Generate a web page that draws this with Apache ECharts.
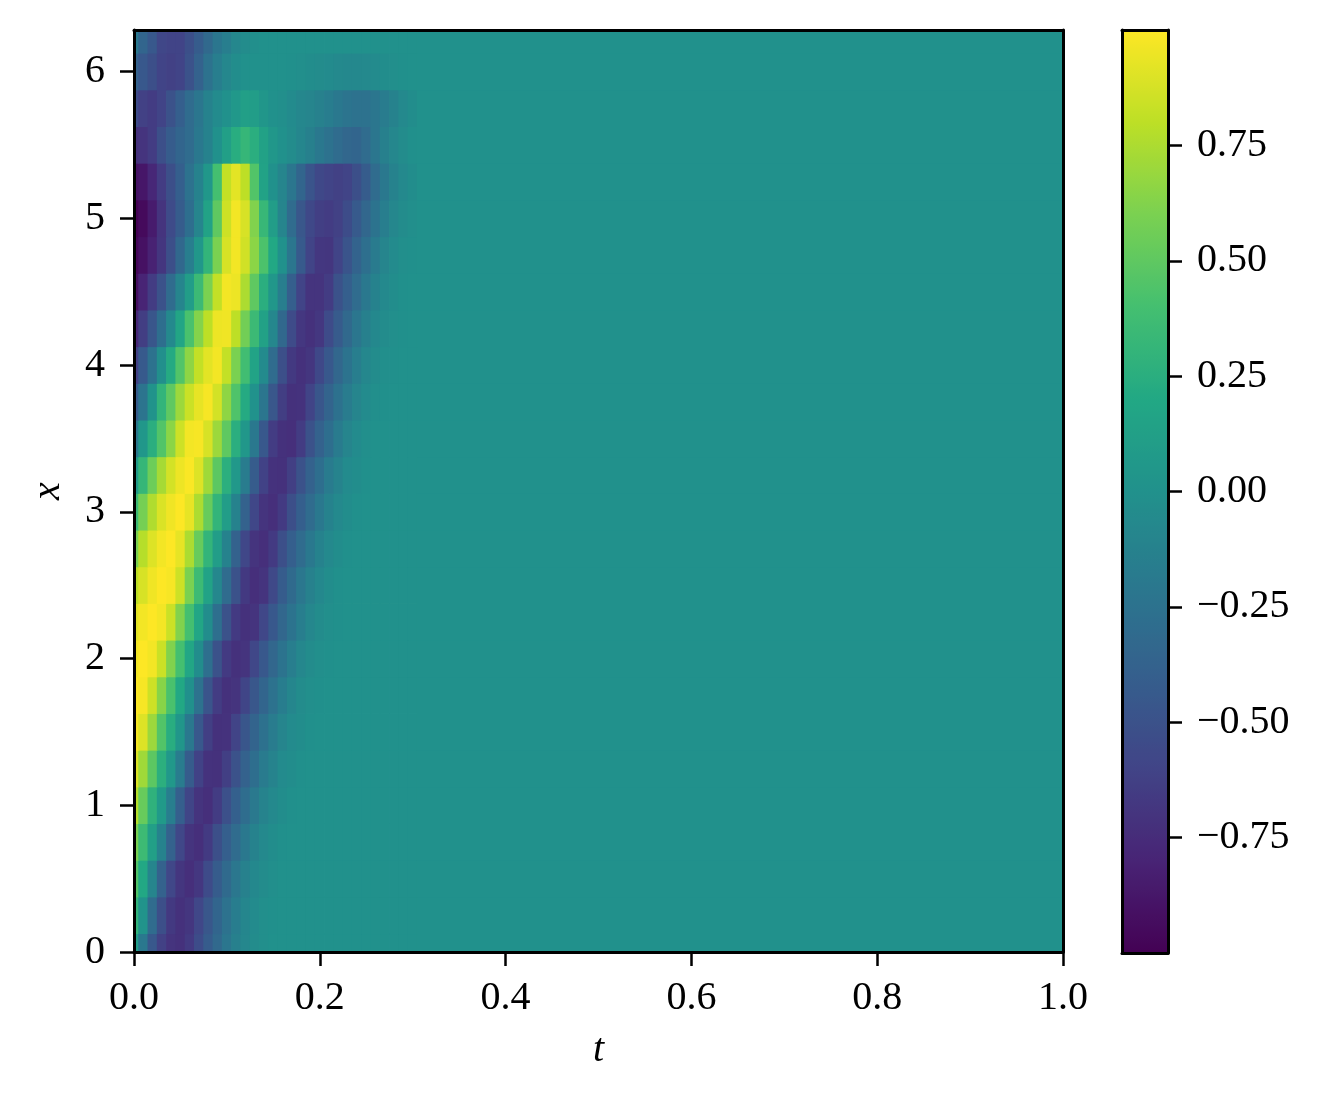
<!DOCTYPE html>
<html>
<head>
<meta charset="utf-8">
<script src="https://cdn.jsdelivr.net/npm/echarts@6/dist/echarts.min.js"></script>
<style>
  html, body { margin: 0; background: #fff; }
  #main { width: 1333px; height: 1103px; }
</style>
</head>
<body>
<div id="main"></div>
<script>
// sample times (columns) and positions (rows)
var tGrid = [0, 0.01, 0.02, 0.03, 0.04, 0.05, 0.06, 0.07, 0.08, 0.09,
             0.10, 0.11, 0.12, 0.13, 0.14, 0.15, 0.16, 0.17, 0.18, 0.19,
             0.20, 0.21, 0.22, 0.23, 0.24, 0.25, 0.26, 0.27, 0.28, 0.29,
             0.30, 0.31];
var xGrid = [0, 0.25, 0.5, 0.75, 1, 1.25, 1.5, 1.75, 2, 2.25, 2.5, 2.75, 3,
             3.25, 3.5, 3.75, 4, 4.25, 4.5, 4.75, 5, 5.25, 5.5, 5.75, 6, 6.25];

// u(x, t): one row per x, one value per t (last column stands for everything after t=0.3)
var u000 = [.10,-.20,-.45,-.62,-.70, -.72,-.66,-.54,-.42,-.32, -.22,-.14,-.08,-.04,-.02, 0,0,0,0,0, 0,0,0,0,0, 0,0,0,0,0, 0,0];
var u025 = [.30,.02,-.30,-.52,-.67, -.72,-.69,-.58,-.46,-.35, -.25,-.16,-.09,-.05,-.02, -.01,0,0,0,0, 0,0,0,0,0, 0,0,0,0,0, 0,0];
var u050 = [.45,.20,-.10,-.38,-.58, -.69,-.73,-.68,-.55,-.42, -.31,-.21,-.13,-.07,-.04, -.02,0,0,0,0, 0,0,0,0,0, 0,0,0,0,0, 0,0];
var u075 = [.60,.36,.12,-.12,-.38, -.58,-.70,-.73,-.66,-.52, -.40,-.30,-.20,-.12,-.06, -.03,-.01,0,0,0, 0,0,0,0,0, 0,0,0,0,0, 0,0];
var u100 = [.78,.53,.28,.08,-.15, -.40,-.59,-.70,-.73,-.65, -.51,-.39,-.29,-.19,-.11, -.06,-.03,-.01,0,0, 0,0,0,0,0, 0,0,0,0,0, 0,0];
var u125 = [.90,.71,.49,.26,.06, -.17,-.42,-.61,-.71,-.72, -.63,-.50,-.38,-.28,-.18, -.11,-.05,-.03,-.01,0, 0,0,0,0,0, 0,0,0,0,0, 0,0];
var u150 = [.98,.90,.70,.45,.24, .04,-.20,-.45,-.63,-.72, -.71,-.60,-.47,-.36,-.26, -.17,-.10,-.05,-.03,-.01, 0,0,0,0,0, 0,0,0,0,0, 0,0];
var u175 = [1.0,.98,.85,.64,.42, .20,-.01,-.25,-.48,-.65, -.72,-.70,-.59,-.46,-.35, -.25,-.16,-.09,-.04,-.02, -.01,0,0,0,0, 0,0,0,0,0, 0,0];
var u200 = [.97,1.0,.97,.84,.62, .40,.18,-.03,-.27,-.50, -.66,-.72,-.70,-.58,-.45, -.34,-.24,-.15,-.08,-.04, -.02,-.01,0,0,0, 0,0,0,0,0, 0,0];
var u225 = [.92,.97,1.0,.97,.84, .62,.40,.18,-.03,-.27, -.50,-.66,-.72,-.70,-.58, -.45,-.34,-.24,-.15,-.08, -.04,-.02,-.01,0,0, 0,0,0,0,0, 0,0];
var u250 = [.80,.88,.96,1.0,.98, .85,.60,.36,.15,-.08, -.30,-.50,-.67,-.73,-.70, -.56,-.42,-.31,-.21,-.13, -.07,-.03,-.01,0,0, 0,0,0,0,0, 0,0];
var u275 = [.60,.78,.90,.97,1.0, .93,.75,.53,.30,.10, -.12,-.38,-.58,-.70,-.73, -.66,-.52,-.40,-.30,-.20, -.12,-.06,-.03,-.01,0, 0,0,0,0,0, 0,0];
var u300 = [.35,.58,.76,.89,.96, 1.0,.93,.75,.53,.30, .10,-.12,-.38,-.58,-.70, -.73,-.66,-.52,-.40,-.30, -.20,-.12,-.06,-.03,-.01, 0,0,0,0,0, 0,0];
var u325 = [.08,.32,.55,.73,.87, .95,.99,.90,.71,.49, .26,.06,-.17,-.42,-.61, -.71,-.72,-.63,-.50,-.38, -.28,-.18,-.11,-.05,-.03, -.01,0,0,0,0, 0,0];
var u350 = [-.20,.05,.25,.45,.65, .85,.97,.98,.88,.70, .50,.25,.05,-.20,-.45, -.65,-.72,-.73,-.65,-.50, -.38,-.28,-.18,-.10,-.05, -.02,0,0,0,0, 0,0];
var u375 = [-.42,-.23,.02,.30,.50, .70,.84,.93,.98,.87, .66,.44,.22,.01,-.22, -.46,-.64,-.72,-.71,-.60, -.47,-.36,-.26,-.17,-.10, -.05,-.02,-.01,0,0, 0,0];
var u400 = [-.62,-.44,-.25,-.02,.22, .45,.66,.82,.92,.97, .82,.60,.38,.16,-.05, -.30,-.52,-.67,-.72,-.69, -.57,-.45,-.34,-.24,-.15, -.08,-.04,-.02,-.01,0, 0,0];
var u425 = [-.78,-.64,-.47,-.28,-.06, .17,.42,.63,.80,.95, .96,.80,.57,.35,.14, -.08,-.33,-.55,-.68,-.72, -.68,-.55,-.43,-.32,-.22, -.14,-.07,-.04,-.02,-.01, 0,0];
var u450 = [-.92,-.80,-.65,-.50,-.30, -.10,.10,.35,.60,.82, .97,.95,.75,.50,.25, .05,-.15,-.40,-.60,-.70, -.70,-.65,-.50,-.40,-.30, -.20,-.12,-.06,-.03,-.01, 0,0];
var u475 = [-.97,-.91,-.81,-.69,-.52, -.33,-.15,.05,.30,.60, .88,.97,.86,.65,.43, .20,.00,-.22,-.44,-.60, -.68,-.69,-.60,-.48,-.37, -.27,-.18,-.10,-.05,-.02, -.01,0];
var u500 = [-1.0,-.95,-.85,-.70,-.55, -.42,-.28,-.10,.15,.50, .85,.97,.88,.62,.33, .10,-.10,-.30,-.46,-.57, -.63,-.65,-.62,-.54,-.44, -.34,-.24,-.15,-.08,-.04, -.02,0];
var u525 = [-.90,-.88,-.78,-.65,-.52, -.40,-.25,-.12,.05,.40, .82,.92,.80,.45,.15, .00,-.10,-.22,-.35,-.48, -.57,-.60,-.62,-.60,-.52, -.42,-.30,-.20,-.12,-.06, -.03,0];
var u550 = [-.72,-.70,-.65,-.52,-.42, -.35,-.30,-.20,-.12,.00, .12,.24,.32,.25,.14, .05,.00,-.04,-.09,-.14, -.20,-.25,-.30,-.34,-.35, -.30,-.22,-.14,-.08,-.04, -.01,0];
var u575 = [-.55,-.62,-.65,-.60,-.50, -.40,-.30,-.22,-.12,-.05, .00,.06,.12,.10,.04, .00,-.02,-.05,-.08,-.10, -.13,-.16,-.20,-.23,-.25, -.25,-.22,-.17,-.12,-.06, -.03,0];
var u600 = [-.38,-.45,-.52,-.60,-.62, -.60,-.50,-.38,-.25,-.15, -.08,-.03,.00,.00,.00, .00,.00,-.01,-.02,-.03, -.04,-.05,-.06,-.07,-.07, -.06,-.05,-.03,-.02,-.01, 0,0];
var u625 = [-.20,-.35,-.45,-.58,-.60, -.60,-.52,-.42,-.32,-.22, -.15,-.08,-.04,-.02,0, 0,0,0,0,0, 0,0,0,0,0, 0,0,0,0,0, 0,0];
var uRows = [u000, u025, u050, u075, u100, u125, u150, u175, u200, u225, u250, u275, u300,
             u325, u350, u375, u400, u425, u450, u475, u500, u525, u550, u575, u600, u625];

var tTicks = [0, 0.2, 0.4, 0.6, 0.8, 1.0];
var xTicks = [0, 1, 2, 3, 4, 5, 6];
var cbTicks = [-0.75, -0.5, -0.25, 0, 0.25, 0.5, 0.75];

var T_MIN = 0, T_MAX = 1, X_MIN = 0, X_MAX = 2 * Math.PI;
var U_MIN = -1, U_MAX = 1;

var viridis = ['#440154', '#482475', '#414487', '#355f8d', '#2a788e', '#21918c',
               '#22a884', '#44bf70', '#7ad151', '#bddf26', '#fde725'];

// cell edges halfway between samples
function edges(c, lo, hi) {
  var e = [lo];
  for (var i = 1; i < c.length; i++) e.push((c[i - 1] + c[i]) / 2);
  e.push(hi);
  return e;
}
var tEdge = edges(tGrid, T_MIN, T_MAX);
var xEdge = edges(xGrid, X_MIN, X_MAX);

var cells = [];
for (var j = 0; j < xGrid.length; j++) {
  for (var i = 0; i < tGrid.length; i++) {
    cells.push([tEdge[i], tEdge[i + 1], xEdge[j], xEdge[j + 1], uRows[j][i]]);
  }
}

function renderCell(params, api) {
  var a = api.coord([api.value(0), api.value(2)]);
  var b = api.coord([api.value(1), api.value(3)]);
  return {
    type: 'rect',
    shape: { x: a[0] - 0.4, y: b[1] - 0.4, width: b[0] - a[0] + 0.8, height: a[1] - b[1] + 0.8 },
    style: { fill: api.visual('color') }
  };
}

var FONT = 'Liberation Serif';
var spine = { onZero: false, lineStyle: { color: '#000', width: 3 } };
var lineOnly = {
  axisLine: spine,
  axisTick: { show: false },
  axisLabel: { show: false },
  splitLine: { show: false }
};
function minus(s) { return s.replace('-', '\u2212'); }

var chart = echarts.init(document.getElementById('main'));
chart.setOption({
  animation: false,
  backgroundColor: '#fff',
  grid: [
    { left: 134, top: 30, width: 929, height: 922 },
    { left: 1122, top: 30, width: 46, height: 923 }
  ],
  xAxis: [
    {
      type: 'value', gridIndex: 0, min: T_MIN, max: T_MAX, position: 'bottom', z: 5,
      name: 't', nameLocation: 'middle', nameGap: 78,
      nameTextStyle: { fontFamily: FONT, fontStyle: 'italic', fontSize: 40, color: '#000' },
      axisLine: spine,
      axisTick: { length: 14, customValues: tTicks, lineStyle: { color: '#000', width: 2.5 } },
      axisLabel: {
        customValues: tTicks, margin: 26, fontFamily: FONT, fontSize: 40, color: '#000',
        formatter: function (v) { return v.toFixed(1); }
      },
      splitLine: { show: false }
    },
    Object.assign({ type: 'value', gridIndex: 0, min: T_MIN, max: T_MAX, position: 'top', z: 5 }, lineOnly),
    Object.assign({ type: 'value', gridIndex: 1, min: 0, max: 1, position: 'bottom', z: 5 }, lineOnly),
    Object.assign({ type: 'value', gridIndex: 1, min: 0, max: 1, position: 'top', z: 5 }, lineOnly)
  ],
  yAxis: [
    {
      type: 'value', gridIndex: 0, min: X_MIN, max: X_MAX, position: 'left', z: 5,
      name: 'x', nameLocation: 'middle', nameGap: 66,
      nameTextStyle: { fontFamily: FONT, fontStyle: 'italic', fontSize: 40, color: '#000' },
      axisLine: spine,
      axisTick: { length: 14, customValues: xTicks, lineStyle: { color: '#000', width: 2.5 } },
      axisLabel: {
        customValues: xTicks, margin: 29, fontFamily: FONT, fontSize: 40, color: '#000',
        formatter: function (v) { return String(v); }
      },
      splitLine: { show: false }
    },
    Object.assign({ type: 'value', gridIndex: 0, min: X_MIN, max: X_MAX, position: 'right', z: 5 }, lineOnly),
    Object.assign({ type: 'value', gridIndex: 1, min: U_MIN, max: U_MAX, position: 'left', z: 5 }, lineOnly),
    {
      type: 'value', gridIndex: 1, min: U_MIN, max: U_MAX, position: 'right', z: 5,
      axisLine: spine,
      axisTick: { length: 14, customValues: cbTicks, lineStyle: { color: '#000', width: 2.5 } },
      axisLabel: {
        customValues: cbTicks, margin: 29, fontFamily: FONT, fontSize: 40, color: '#000',
        formatter: function (v) { return minus(v.toFixed(2)); }
      },
      splitLine: { show: false }
    }
  ],
  visualMap: {
    type: 'continuous',
    min: U_MIN, max: U_MAX,
    dimension: 4,
    seriesIndex: 0,
    orient: 'vertical',
    left: 1122, top: 30,
    itemWidth: 46, itemHeight: 923,
    padding: 0,
    calculable: false,
    hoverLink: false,
    inRange: { color: viridis }
  },
  series: [{
    type: 'custom',
    coordinateSystem: 'cartesian2d',
    xAxisIndex: 0, yAxisIndex: 0,
    renderItem: renderCell,
    encode: { x: [0, 1], y: [2, 3] },
    clip: true,
    silent: true,
    data: cells
  }]
});
</script>
</body>
</html>
